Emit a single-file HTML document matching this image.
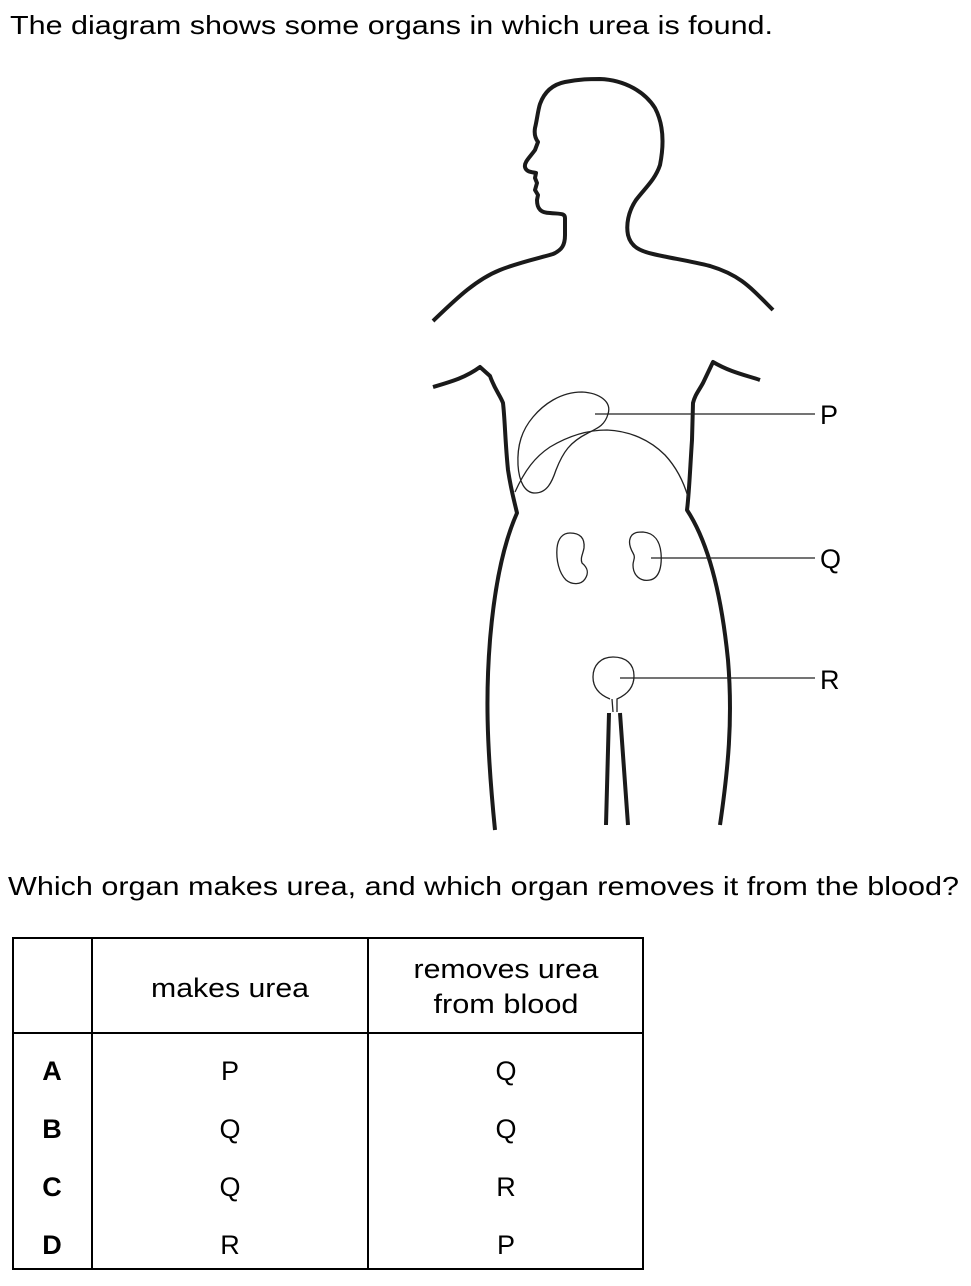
<!DOCTYPE html>
<html><head><meta charset="utf-8"><style>
html,body{margin:0;padding:0;background:#fff}
svg{display:block}
text{font-family:"Liberation Sans",Arial,sans-serif;fill:#000}
</style></head><body>
<svg width="971" height="1286" viewBox="0 0 971 1286" xmlns="http://www.w3.org/2000/svg">
<text x="10" y="34" font-size="26" textLength="763" lengthAdjust="spacingAndGlyphs">The diagram shows some organs in which urea is found.</text>

<g fill="none" stroke="#1a1a1a" stroke-width="4" stroke-linejoin="round" stroke-linecap="butt">
<path d="M433,321 C455,300 475,280 500,270 C520,262 540,258 553,254 C562,250 565,245 565,235 L565,218 C565,213 560,214 550,213 C540,213 537,208 537,200 L538,195 L535,190 L537,183 L535,178 L536,173 C532,172 526,172 525,167 C524,162 530,157 535,150 L538,142 C535,138 534,134 535,128 C537,120 538,110 540,104 C545,90 555,84 565,82 C580,79 590,79 600,79 C625,80 645,92 655,108 C664,125 664,145 660,165 C655,180 645,188 636,200 C628,212 626,225 628,235 C631,247 640,251 653,254 C670,258 690,261 710,266 C740,275 750,287 773,310"/>
<path d="M433,387 C450,382 465,378 480,367 L490,376 C495,390 500,395 503,403 C505,420 505,440 508,470 C511,490 514,500 517,513 C505,540 495,580 490,640 C486,690 486,740 495,830"/>
<path d="M760,380 C745,375 730,372 713,362 L703,383 C698,392 695,395 693,403 L692,440 C690,470 689,495 687,510 C710,545 722,600 728,660 C733,720 728,770 720,825"/>
<path d="M609,713 L606,825 M620,713 L628,825"/>
</g>

<g fill="none" stroke="#222" stroke-width="1.3">
<path d="M582,392 C600,393 612,402 608,414 C605,425 598,428 588,433 C570,442 563,452 556,470 C552,482 547,493 535,493 C525,493 519,482 518,465 C517,445 522,430 533,417 C543,405 560,392 582,392 Z"/>
<path d="M515,492 C525,470 535,457 550,447 C570,435 590,430 607,430 C630,431 650,440 665,455 C677,468 684,483 688,497"/>
<path d="M570,533 C580,533 585,538 584,548 C583,554 580,558 582,563 C588,568 589,573 585,579 C581,585 572,585 566,580 C559,573 556,560 557,548 C558,538 563,533 570,533 Z"/>
<path d="M643,532 C655,533 660,542 661,553 C662,565 660,578 650,580 C640,582 633,575 633,565 C633,560 636,558 633,553 C629,546 628,540 632,535 C635,532 639,532 643,532 Z"/>
<path d="M610,699 C600,695 593,688 593,677 C593,665 601,657 613,657 C626,657 634,664 634,676 C634,688 626,695 617,699 L617,712 M612,699 L613,712"/>
<path d="M595,414 L815,414 M651,558 L815,558 M620,678 L815,678"/>
</g>
<text x="820" y="424" font-size="27">P</text>
<text x="820" y="568" font-size="27">Q</text>
<text x="820" y="689" font-size="27">R</text>

<text x="8" y="895" font-size="26" textLength="951" lengthAdjust="spacingAndGlyphs">Which organ makes urea, and which organ removes it from the blood?</text>

<g stroke="#000" stroke-width="2" fill="none">
<rect x="13" y="938" width="630" height="331"/>
<line x1="92" y1="938" x2="92" y2="1269"/>
<line x1="368" y1="938" x2="368" y2="1269"/>
<line x1="13" y1="1033" x2="643" y2="1033"/>
</g>
<g font-size="27" text-anchor="middle">
<text x="230" y="997" textLength="158" lengthAdjust="spacingAndGlyphs">makes urea</text>
<text x="506" y="978" textLength="185" lengthAdjust="spacingAndGlyphs">removes urea</text>
<text x="506" y="1013" textLength="145" lengthAdjust="spacingAndGlyphs">from blood</text>
<text x="52" y="1080" font-weight="bold">A</text>
<text x="52" y="1138" font-weight="bold">B</text>
<text x="52" y="1196" font-weight="bold">C</text>
<text x="52" y="1254" font-weight="bold">D</text>
<text x="230" y="1080">P</text>
<text x="230" y="1138">Q</text>
<text x="230" y="1196">Q</text>
<text x="230" y="1254">R</text>
<text x="506" y="1080">Q</text>
<text x="506" y="1138">Q</text>
<text x="506" y="1196">R</text>
<text x="506" y="1254">P</text>
</g>
</svg>
</body></html>
